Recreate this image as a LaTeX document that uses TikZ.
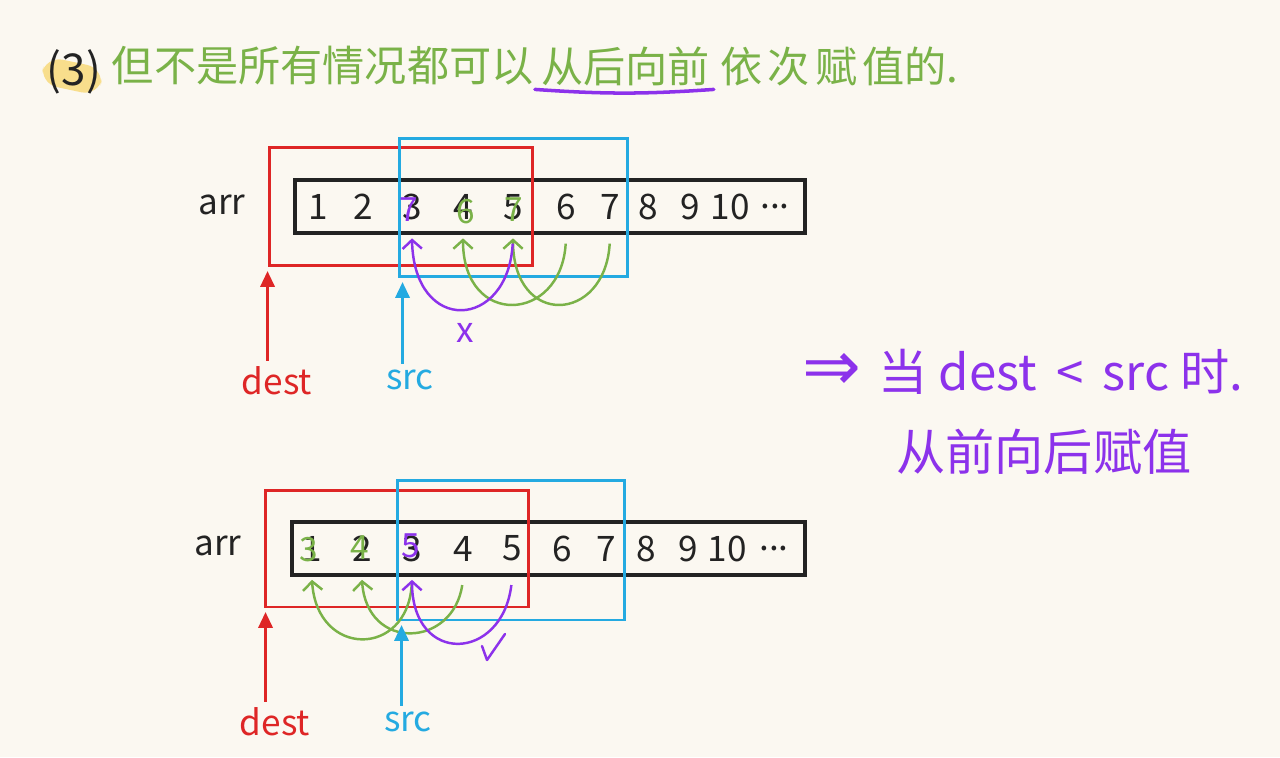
\documentclass[tikz,border=0pt]{standalone}
\usepackage{fontspec}
\setmainfont{Noto Sans CJK SC}
\newfontfamily\symfont{DejaVu Sans}
\usepackage{tikz}
\usetikzlibrary{arrows.meta,positioning}
\definecolor{paper}{RGB}{251,248,241}
\definecolor{ink}{RGB}{35,35,35}
\definecolor{pengreen}{RGB}{122,178,72}
\definecolor{penpurple}{RGB}{140,50,235}
\definecolor{penred}{RGB}{222,38,38}
\definecolor{penblue}{RGB}{36,170,225}
\definecolor{marker}{RGB}{248,222,140}

\begin{document}
\begin{tikzpicture}[
    x=0.02cm, y=-0.02cm,
    cell/.style={inner sep=0pt, minimum height=1.24cm, text=ink,
        font=\fontsize{20}{20}\selectfont},
    over/.style={inner sep=0pt, font=\fontsize{19}{19}\selectfont},
    arrbox/.style={draw=ink, line width=2pt, minimum width=10.2cm,
        minimum height=1.06cm, inner sep=0pt},
    win/.style={line width=1.7pt, inner sep=0pt},
    lbl/.style={font=\fontsize{20}{20}\selectfont},
    head/.style={font=\fontsize{24}{24}\selectfont, text=pengreen, inner sep=2pt},
    ptr/.style={line width=1.7pt, -{Triangle[length=9pt,width=8pt]}, shorten >=2pt},
    hop/.style={line width=1.4pt, -{Straight Barb[length=5pt,width=11pt]}, shorten <=3pt}
]
\fill[paper] (0,0) rectangle (1280,757);
\useasboundingbox (0,0) rectangle (1280,757);

% title
\fill[marker, rounded corners=10pt, rotate around={-12:(72,76)}] (42,62) rectangle (102,90);
\node[font=\fontsize{25}{25}\selectfont, text=ink] (num) at (74,72) {(3)};
\node[head, anchor=west] (headA) at (108,66) {但不是所有情况都可以};
\node[head, right=0pt of headA] (headB) {从后向前};
\node[head, right=0.05cm of headB] (headC) {依\hspace{3pt}次\hspace{3pt}赋\hspace{3pt}值的.};
\draw[penpurple, line width=2pt, line cap=round] ([xshift=-0.05cm]headB.south west) to[bend right=4] (headB.south east);

% upper array
\node[lbl, text=ink] (arrA) at (222,205) {arr};
\node[arrbox] (boxA) at (550,206.5) {};
\node[win, draw=penred, minimum width=5.28cm, minimum height=2.38cm] (redA) at (401,206.5) {};
\node[win, draw=penblue, minimum width=4.58cm, minimum height=2.78cm] (blueA) at (513.5,207.5) {};
\foreach \i/\x in {1/318,2/363,3/412,4/463,5/513,6/566,7/610,8/648,9/690,10/730}
    \node[cell] (t\i) at (\x,207) {\i};
\node[cell] (tdots) at (775,207) {...};
\node[over, text=penpurple] (fixA) at (409,210) {7};
\node[over, text=pengreen] (fixB) at (466,212) {6};
\node[over, text=pengreen] (fixC) at (514,210) {7};

\draw[hop, pengreen] (t6.south) .. controls +(-5,85) and +(0,90) .. (t4.south);
\draw[hop, pengreen] (t7.south) .. controls +(-5,85) and +(0,90) .. (t5.south);
\draw[hop, penpurple] (t5.south) .. controls +(-5,92) and +(2,97) .. (t3.south);
\node[lbl, text=penpurple] (failA) at (465,333) {x};

\node[lbl, text=penred] (destA) at (277,381) {dest};
\node[lbl, text=penblue] (srcA) at (410,380) {src};
\draw[ptr, penred] (destA.north -| redA.south west) -- (redA.south west);
\draw[ptr, penblue] ([xshift=0.1cm]srcA.north -| blueA.south west) -- ([xshift=0.1cm]blueA.south west);

% rule
\node[anchor=west, font=\fontsize{28}{28}\selectfont, text=penpurple] (ruleA) at (796,372)
    {{\symfont\fontsize{40}{40}\selectfont ⇒}\hspace{10pt}当 dest \,<\, src 时.};
\node[anchor=west, font=\fontsize{28}{28}\selectfont, text=penpurple] (ruleB) at (890,452) {从前向后赋值};

% lower array
\node[lbl, text=ink] (arrB) at (218,546) {arr};
\node[arrbox, minimum width=10.26cm] (boxB) at (548.5,548.5) {};
\node[win, draw=penred, minimum width=5.28cm, minimum height=2.34cm] (redB) at (397,548.5) {};
\node[win, draw=penblue, minimum width=4.56cm, minimum height=2.8cm] (blueB) at (511,550) {};
\foreach \i/\x in {1/312,2/362,3/412,4/463,5/512,6/562,7/606,8/646,9/688,10/727}
    \node[cell] (b\i) at (\x,548.5) {\i};
\node[cell] (bdots) at (774,548.5) {...};
\node[over, text=pengreen] (fixD) at (309,550) {3};
\node[over, text=pengreen] (fixE) at (360,548) {4};
\node[over, text=penpurple] (fixF) at (411,546) {5};

\draw[hop, pengreen] (b3.south) .. controls +(-5,78) and +(5,78) .. (b1.south);
\draw[hop, pengreen] (b4.south) .. controls +(-10,68) and +(5,72) .. (b2.south);
\draw[hop, penpurple] (b5.south) .. controls +(-10,82) and +(0,86) .. (b3.south);
\draw[penpurple, line width=1.4pt, line cap=round, line join=round] (482,646) -- (487,660) -- (505,634);

\node[lbl, text=penred] (destB) at (275,722) {dest};
\node[lbl, text=penblue] (srcB) at (408,722) {src};
\draw[ptr, penred] ([xshift=0.04cm]destB.north -| redB.south west) -- ([xshift=0.04cm]redB.south west);
\draw[ptr, penblue] ([xshift=0.12cm]srcB.north -| blueB.south west) -- ([xshift=0.12cm]blueB.south west);
\end{tikzpicture}
\end{document}
